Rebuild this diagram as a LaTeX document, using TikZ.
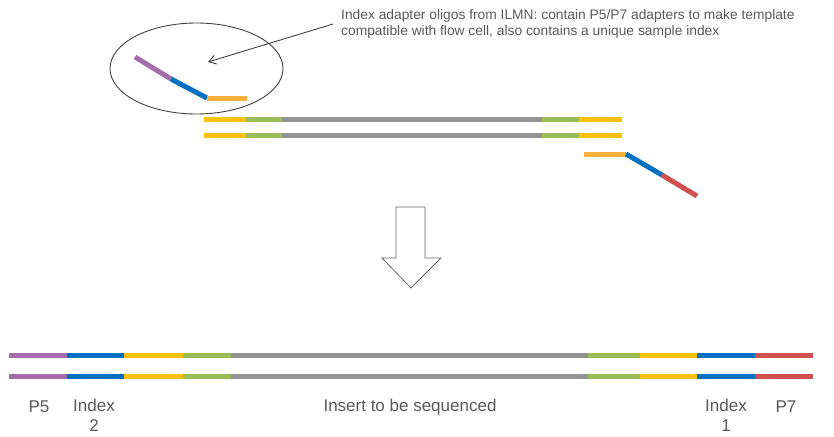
\documentclass[tikz,border=0pt]{standalone}
\usepackage{fontspec}
\setmainfont{Liberation Sans}
\usetikzlibrary{arrows.meta}
\definecolor{cPurple}{HTML}{A66DAC}
\definecolor{cBlue}{HTML}{0070C0}
\definecolor{cYellow}{HTML}{FFC000}
\definecolor{cGreen}{HTML}{9BBB59}
\definecolor{cGray}{HTML}{939393}
\definecolor{cRed}{HTML}{D05050}
\definecolor{cOrange}{HTML}{FFB03B}
\definecolor{cText}{HTML}{595959}
\definecolor{cLine}{HTML}{404040}
\tikzset{
  seg/.style={line width=5pt},
  lbl/.style={text=cText, font=\fontsize{17}{20}\selectfont, align=center, inner sep=0pt},
  note/.style={text=cText, font=\fontsize{13.8}{16}\selectfont, align=left, inner sep=0pt, anchor=north west},
}
\begin{document}
\begin{tikzpicture}[x=1pt,y=-1pt]
\useasboundingbox (0,0) rectangle (834,436);

% adapter oligo (P5 side) inside the ellipse
\draw[cLine, line width=0.9pt] (196.5,68.5) ellipse [x radius=86.5, y radius=45.5];
\draw[seg, cPurple] (135,57) -- (171,79);
\draw[seg, cBlue] (171,79) -- (207,98);
\draw[seg, cOrange] (207,98) -- (247,98);

% callout text and its pointer
\node[note] (note) at (341,9) {Index adapter oligos from ILMN: contain P5/P7 adapters to make template\\compatible with flow cell, also contains a unique sample index};
\coordinate (target) at (208,62);
\draw[cLine, line width=0.9pt, -{Straight Barb[length=7pt,width=9pt]}] (333,24) -- (target);

% double-stranded insert with partial adapters
\foreach \y in {119,135} {
  \draw[seg, cYellow] (204,\y) -- (246,\y);
  \draw[seg, cGreen] (246,\y) -- (282,\y);
  \draw[seg, cGray] (282,\y) -- (542,\y);
  \draw[seg, cGreen] (542,\y) -- (579,\y);
  \draw[seg, cYellow] (579,\y) -- (622,\y);
}

% adapter oligo (P7 side)
\draw[seg, cOrange] (584,154) -- (626,154);
\draw[seg, cBlue] (626,154) -- (662,175);
\draw[seg, cRed] (662,175) -- (697,196);

% block arrow
\draw[cLine!80, line width=0.8pt, fill=white]
  (396,207) -- (425,207) -- (425,258) -- (441,258) -- (411,288) -- (382,258) -- (396,258) -- cycle;

% final library fragment
\foreach \y in {355,376} {
  \draw[seg, cPurple] (9,\y) -- (67,\y);
  \draw[seg, cBlue] (67,\y) -- (124,\y);
  \draw[seg, cYellow] (124,\y) -- (183,\y);
  \draw[seg, cGreen] (183,\y) -- (231,\y);
  \draw[seg, cGray] (231,\y) -- (588,\y);
  \draw[seg, cGreen] (588,\y) -- (640,\y);
  \draw[seg, cYellow] (640,\y) -- (697,\y);
  \draw[seg, cBlue] (697,\y) -- (755,\y);
  \draw[seg, cRed] (755,\y) -- (813,\y);
}

% region labels
\node[lbl] (p5) at (39,407) {P5};
\node[lbl] (idx2) at (94,415) {Index\\2};
\node[lbl] (ins) at (410,407) {Insert to be sequenced};
\node[lbl] (idx1) at (726,415) {Index\\1};
\node[lbl] (p7) at (786,407) {P7};
\end{tikzpicture}
\end{document}
